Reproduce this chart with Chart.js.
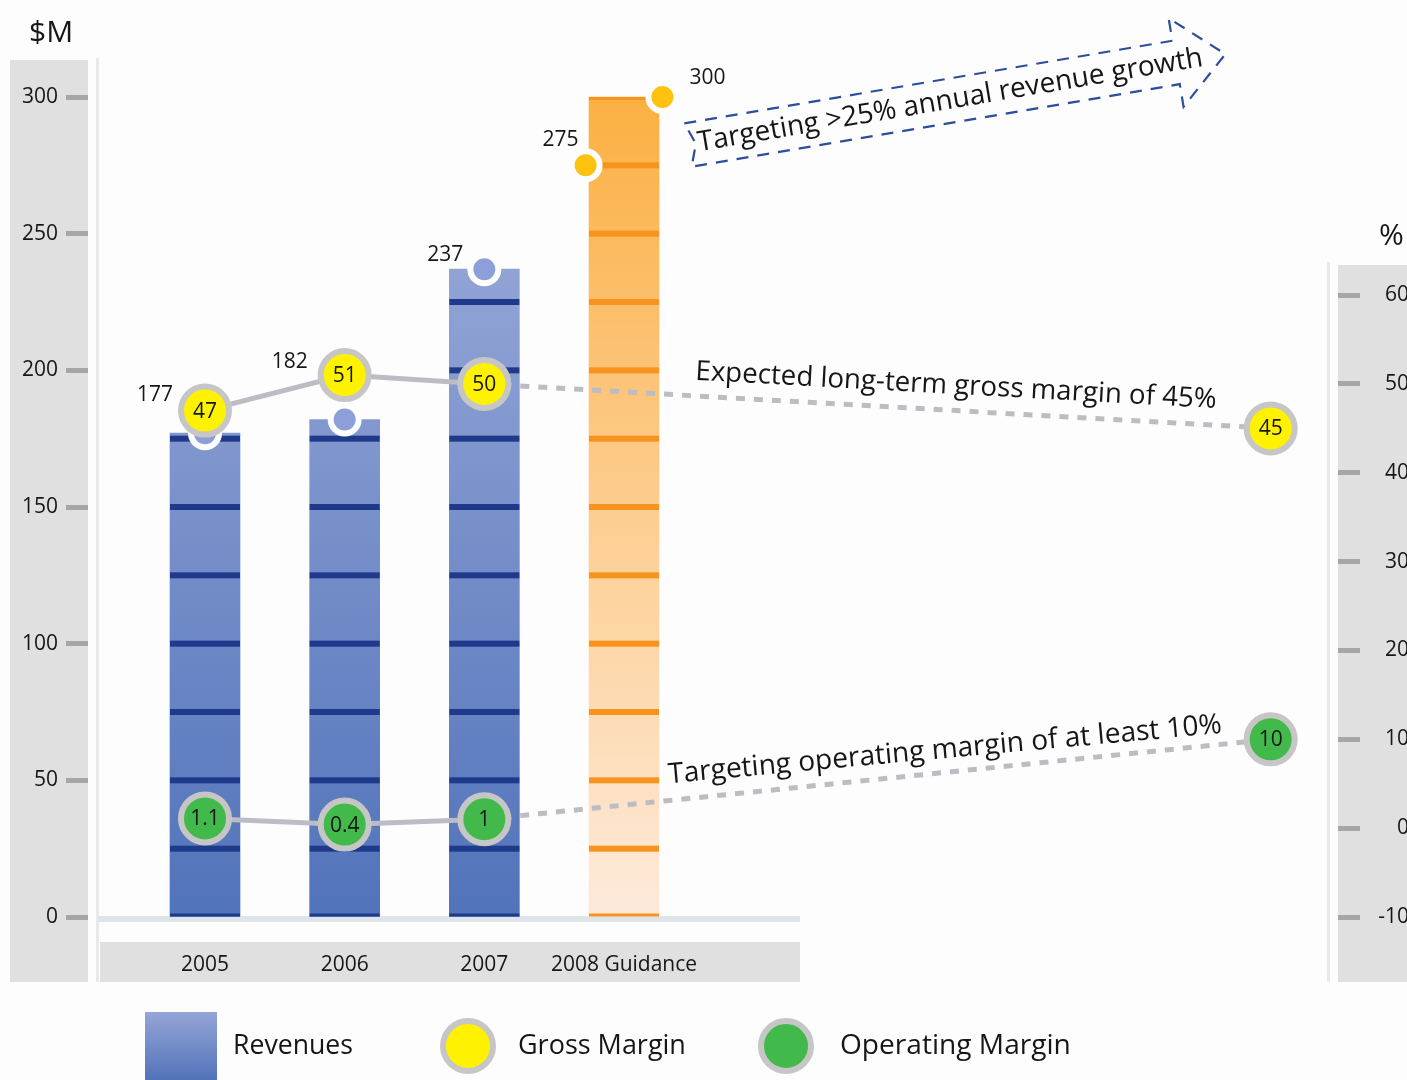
<!DOCTYPE html>
<html>
<head>
<meta charset="utf-8">
<script src="https://cdn.jsdelivr.net/npm/chart.js@4.4.1/dist/chart.umd.min.js"></script>
<style>
  html, body { margin: 0; padding: 0; background: #fdfdfd; overflow: hidden; }
  canvas { display: block; }
</style>
</head>
<body>
<canvas id="mycanvas" width="1409" height="1080"></canvas>
<script>
// ---- data ----
var years = ['2005', '2006', '2007', '2008 Guidance'];
var revenues = [177, 182, 237];          // $M
var guidance = [275, 300];               // 2008 low / high, $M
var grossMargin = [47, 51, 50];          // %
var operatingMargin = [1.1, 0.4, 1];     // %
var grossTarget = 45;
var operatingTarget = 10;
var revenueTicks = [0, 50, 100, 150, 200, 250, 300];
var marginTicks = [-10, 0, 10, 20, 30, 40, 50, 60];

// ---- layout ----
var FONT = '"Open Sans", "Noto Sans", sans-serif';
var TARGET_X = 7.63;      // where the long-term targets sit on the x axis
var GUIDE_SHIFT = 0.275;  // 2008 low/high markers sit on the bar edges
var labelOffsets = [[-50, -38], [-55, -58], [-39, -14], [-25, -25], [45, -19]];

var barData = years.map(function (y, i) {
  return { x: i, y: i < revenues.length ? revenues[i] : guidance[1] };
});
var revenuePoints = revenues.map(function (v, i) { return { x: i, y: v }; });
revenuePoints.push({ x: 3 - GUIDE_SHIFT, y: guidance[0] });
revenuePoints.push({ x: 3 + GUIDE_SHIFT, y: guidance[1] });
var revenueLabels = revenues.concat(guidance);

var grossPoints = grossMargin.map(function (v, i) { return { x: i, y: v }; });
grossPoints.push({ x: TARGET_X, y: grossTarget });
var opPoints = operatingMargin.map(function (v, i) { return { x: i, y: v }; });
opPoints.push({ x: TARGET_X, y: operatingTarget });

function fitFont(c, text, width, base) {
  c.font = base + 'px ' + FONT;
  var s = base * width / c.measureText(text).width;
  c.font = s + 'px ' + FONT;
}

function rotatedText(c, text, x, y, deg, width) {
  c.save();
  c.translate(x, y);
  c.rotate(deg * Math.PI / 180);
  fitFont(c, text, width, 26);
  c.textAlign = 'center';
  c.textBaseline = 'middle';
  c.fillStyle = '#161616';
  c.fillText(text, 0, 0);
  c.restore();
}

// grey panels behind the axes
var backdrop = {
  id: 'backdrop',
  beforeDraw: function (chart) {
    var c = chart.ctx, a = chart.chartArea;
    var yl = chart.scales.y, yr = chart.scales.y1, xs = chart.scales.x;
    c.save();
    c.fillStyle = '#fdfdfd';
    c.fillRect(0, 0, chart.width, chart.height);
    c.fillStyle = '#e0e0e0';
    c.fillRect(yl.left, 60, yl.width, xs.bottom - 60);
    c.fillRect(yr.left, 265, yr.width, xs.bottom - 265);
    c.fillRect(a.left + 12, xs.bottom - 40, 700, 40);
    c.fillStyle = '#e9e9e9';
    c.fillRect(a.left + 8, 58, 3, xs.bottom - 58);
    c.fillRect(yr.left - 11, 262, 3, xs.bottom - 262);
    c.fillStyle = '#dde4ea';
    c.fillRect(a.left + 10, a.bottom - 1, 702, 6);
    c.restore();
  }
};

// horizontal bands every 25 on the revenue bars
var stripes = {
  id: 'stripes',
  afterDatasetDraw: function (chart, args) {
    if (args.index !== 0) return;
    var c = chart.ctx, ys = chart.scales.y;
    c.save();
    args.meta.data.forEach(function (bar, i) {
      var v = barData[i].y;
      var left = bar.x - bar.width / 2;
      c.fillStyle = i === 3 ? '#f7931e' : '#1f3a8a';
      for (var t = 25; t <= v; t += 25) {
        var py = ys.getPixelForValue(t);
        var top = Math.max(py - 3, bar.y);
        c.fillRect(left, top, bar.width, py + 3 - top);
      }
      c.fillRect(left, bar.base - 3, bar.width, 3);
    });
    c.restore();
  }
};

// numbers on and next to the markers
var valueLabels = {
  id: 'valueLabels',
  afterDatasetsDraw: function (chart) {
    var c = chart.ctx;
    c.save();
    c.textAlign = 'center';
    c.textBaseline = 'middle';
    c.fillStyle = '#161616';
    c.font = '21px ' + FONT;
    chart.getDatasetMeta(1).data.forEach(function (p, i) {
      c.fillText(String(revenueLabels[i]), p.x + labelOffsets[i][0], p.y + labelOffsets[i][1]);
    });
    [2, 3].forEach(function (d) {
      var vals = chart.data.datasets[d].data;
      chart.getDatasetMeta(d).data.forEach(function (p, i) {
        c.fillText(String(vals[i].y), p.x, p.y + 1);
      });
    });
    c.restore();
  }
};

// titles, notes, arrow and legend
var notes = {
  id: 'notes',
  afterDraw: function (chart) {
    var c = chart.ctx;
    c.save();
    c.fillStyle = '#161616';
    c.textBaseline = 'middle';
    c.textAlign = 'left';
    c.font = '30px ' + FONT;
    c.fillText('$M', 29, 33);
    c.fillText('%', 1379, 236);

    rotatedText(c, 'Expected long-term gross margin of 45%', 956, 386, 3.1, 522);
    rotatedText(c, 'Targeting operating margin of at least 10%', 945, 750, -5.2, 556);

    // dashed growth arrow
    c.save();
    c.translate(688, 145);
    c.rotate(-9.6 * Math.PI / 180);
    c.beginPath();
    c.moveTo(0, -22);
    c.lineTo(495, -22);
    c.lineTo(495, -45);
    c.lineTo(545, 0);
    c.lineTo(495, 45);
    c.lineTo(495, 22);
    c.lineTo(0, 22);
    c.lineTo(8, 0);
    c.closePath();
    c.setLineDash([12, 9]);
    c.lineWidth = 2.2;
    c.strokeStyle = '#2c4d9e';
    c.stroke();
    c.setLineDash([]);
    fitFont(c, 'Targeting >25% annual revenue growth', 512, 26);
    c.textAlign = 'center';
    c.fillStyle = '#161616';
    c.fillText('Targeting >25% annual revenue growth', 266, 0);
    c.restore();

    // legend
    var g = c.createLinearGradient(0, 1012, 0, 1080);
    g.addColorStop(0, '#95a5d6');
    g.addColorStop(1, '#5273b9');
    c.fillStyle = g;
    c.fillRect(145, 1012, 72, 68);
    [[468, '#fff200'], [786, '#41b94b']].forEach(function (m) {
      c.beginPath();
      c.arc(m[0], 1046, 25, 0, Math.PI * 2);
      c.fillStyle = m[1];
      c.fill();
      c.lineWidth = 6;
      c.strokeStyle = '#c6c6c6';
      c.stroke();
    });
    c.fillStyle = '#161616';
    c.textAlign = 'left';
    [['Revenues', 233, 120], ['Gross Margin', 518, 168], ['Operating Margin', 840, 231]].forEach(function (l) {
      fitFont(c, l[0], l[2], 26);
      c.fillText(l[0], l[1], 1046);
    });
    c.restore();
  }
};

var ctx = document.getElementById('mycanvas');

var chart = new Chart(ctx, {
  data: {
    datasets: [
      {
        type: 'bar',
        label: 'Revenues',
        data: barData,
        yAxisID: 'y',
        order: 3,
        barThickness: 70,
        grouped: false,
        clip: false,
        backgroundColor: function (c) {
          var a = c.chart.chartArea;
          if (!a) return '#7088c8';
          var g = c.chart.ctx.createLinearGradient(0, a.top, 0, a.bottom);
          if (c.dataIndex === 3) {
            g.addColorStop(0, '#fbb043');
            g.addColorStop(1, '#feeadb');
          } else {
            g.addColorStop(0, '#a2b0dc');
            g.addColorStop(1, '#5173ba');
          }
          return g;
        }
      },
      {
        type: 'scatter',
        label: 'Revenue markers',
        data: revenuePoints,
        yAxisID: 'y',
        order: 2,
        clip: false,
        pointRadius: 14,
        pointBorderWidth: 6,
        pointBorderColor: '#fdfdfd',
        pointBackgroundColor: ['#8d9fd8', '#8d9fd8', '#8d9fd8', '#ffc20e', '#ffc20e']
      },
      {
        type: 'line',
        label: 'Gross Margin',
        data: grossPoints,
        yAxisID: 'y1',
        order: 1,
        clip: false,
        borderColor: '#bcbcc4',
        borderWidth: 5,
        borderCapStyle: 'butt',
        segment: {
          borderDash: function (s) { return s.p1DataIndex === 3 ? [9, 9] : undefined; }
        },
        pointRadius: 24,
        pointBorderWidth: 6,
        pointBorderColor: '#c6c6c6',
        pointBackgroundColor: '#fff200'
      },
      {
        type: 'line',
        label: 'Operating Margin',
        data: opPoints,
        yAxisID: 'y1',
        order: 1,
        clip: false,
        borderColor: '#bcbcc4',
        borderWidth: 5,
        borderCapStyle: 'butt',
        segment: {
          borderDash: function (s) { return s.p1DataIndex === 3 ? [9, 9] : undefined; }
        },
        pointRadius: 24,
        pointBorderWidth: 6,
        pointBorderColor: '#c6c6c6',
        pointBackgroundColor: '#41b94b'
      }
    ]
  },
  options: {
    responsive: false,
    animation: false,
    layout: { padding: { left: 10, right: 0, top: 97, bottom: 98 } },
    plugins: { legend: { display: false }, tooltip: { enabled: false } },
    scales: {
      x: {
        type: 'linear',
        offset: false,
        min: -0.8377,
        max: 8.112,
        afterBuildTicks: function (s) { s.ticks = years.map(function (y, i) { return { value: i }; }); },
        afterFit: function (s) { s.height = 65; },
        grid: { display: false, offset: false },
        border: { display: false },
        ticks: {
          autoSkip: false,
          maxRotation: 0,
          padding: 27,
          color: '#161616',
          font: { family: FONT, size: 21 },
          callback: function (v) { return years[Math.round(v)]; }
        }
      },
      y: {
        position: 'left',
        min: 0,
        max: 300,
        afterBuildTicks: function (s) { s.ticks = revenueTicks.map(function (v) { return { value: v }; }); },
        afterFit: function (s) { s.width = 78; },
        grid: { drawOnChartArea: false, tickLength: 22, tickWidth: 5, tickColor: '#a6a6a6' },
        border: { display: false },
        ticks: { padding: 8, color: '#161616', font: { family: FONT, size: 21 } }
      },
      y1: {
        position: 'right',
        min: -10,
        max: 82.3,
        afterBuildTicks: function (s) { s.ticks = marginTicks.map(function (v) { return { value: v }; }); },
        afterFit: function (s) { s.width = 71; },
        grid: { drawOnChartArea: false, tickLength: 22, tickWidth: 5, tickColor: '#a6a6a6' },
        border: { display: false },
        ticks: { crossAlign: 'far', padding: 15, color: '#161616', font: { family: FONT, size: 21 } }
      }
    }
  },
  plugins: [backdrop, stripes, valueLabels, notes]
});
</script>
</body>
</html>
